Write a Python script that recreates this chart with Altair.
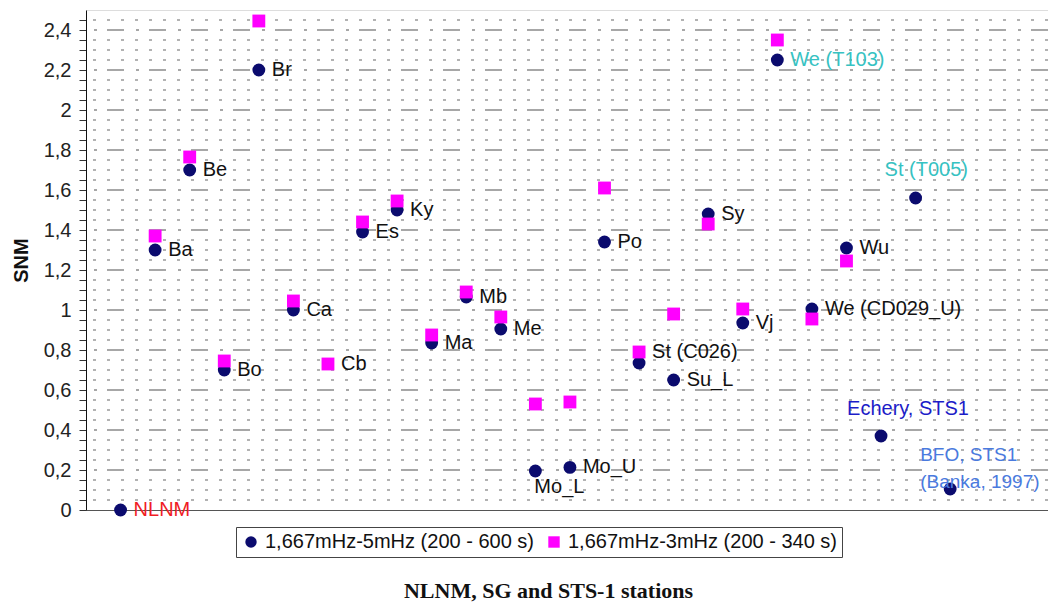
import altair as alt
import pandas as pd

# ---- data ----
stations = ["NLNM", "Ba", "Be", "Bo", "Br", "Ca", "Cb", "Es", "Ky", "Ma", "Mb", "Me",
            "Mo_L", "Mo_U", "Po", "St (C026)", "Su_L", "Sy", "Vj", "We (T103)",
            "We (CD029_U)", "Wu", "Echery, STS1", "St (T005)", "BFO, STS1\n(Banka, 1997)"]
snm_5mhz = [0.0, 1.30, 1.70, 0.70, 2.20, 1.00, None, 1.39, 1.50, 0.835, 1.065, 0.905,
            0.195, 0.213, 1.34, 0.735, 0.65, 1.48, 0.935, 2.25, 1.005, 1.31, 0.37, 1.56, 0.105]
snm_3mhz = [None, 1.37, 1.765, 0.745, 2.445, 1.045, 0.73, 1.44, 1.545, 0.875, 1.09, 0.965,
            0.53, 0.54, 1.61, 0.79, 0.98, 1.43, 1.005, 2.35, 0.955, 1.245, None, None, None]
series_names = ["1,667mHz-5mHz (200 - 600 s)", "1,667mHz-3mHz (200 - 340 s)"]
label_on_square = ["Cb", "St (C026)"]
y_ticks = [round(i * 0.05, 2) for i in range(50)]
y_major = [v for v in y_ticks if abs(v * 5 - round(v * 5)) < 1e-6 and v > 0]
y_minor = [v for v in y_ticks if abs(v * 5 - round(v * 5)) >= 1e-6]

label_colors = {"NLNM": "#f01c24", "We (T103)": "#36c2c2", "St (T005)": "#36c2c2",
                "Echery, STS1": "#1c1cc8", "BFO, STS1\n(Banka, 1997)": "#4a7ade"}

rows = []
for s_name, vals in zip(series_names, [snm_5mhz, snm_3mhz]):
    for i, (st, v) in enumerate(zip(stations, vals)):
        if v is not None:
            rows.append({"station": st, "idx": i, "value": v, "series": s_name})
pts = pd.DataFrame(rows)

lab_rows = []
for i, st in enumerate(stations):
    v = snm_3mhz[i] if (st in label_on_square or snm_5mhz[i] is None) else snm_5mhz[i]
    lab_rows.append({"station": st, "idx": i, "value": v,
                     "color": label_colors.get(st, "#111111")})
labs = pd.DataFrame(lab_rows)

major_test = "abs(datum.value*5 - round(datum.value*5)) < 0.001"

x_scale = alt.Scale(domain=[-1, 26.83], nice=False, zero=False)
y_scale = alt.Scale(domain=[0, 2.5], nice=False)

x_axis = alt.Axis(title="NLNM, SG and STS-1 stations", labels=False, ticks=False,
                  grid=False, domainColor="#555555",
                  titleFont="Liberation Serif", titleFontSize=22,
                  titleFontWeight="bold", titleColor="#111111",
                  titleX=462, titleY=80, titleBaseline="middle")
y_axis = alt.Axis(title="SNM", values=y_ticks,
                  labelExpr=major_test + " ? replace(format(datum.value, '.1~f'), '.', ',') : ''",
                  labelFont="Liberation Sans", labelFontSize=20, labelColor="#222222",
                  labelPadding=8, tickSize=7, tickColor="#333333",
                  domainColor="#111111",
                  titleFont="Liberation Sans", titleFontSize=20, titleFontWeight="bold",
                  titleColor="#111111", titlePadding=12, grid=False)

grid_minor = alt.Chart(pd.DataFrame({"g": y_minor})).mark_rule(
    strokeDash=[3, 11], color="#666666", strokeWidth=1.2).encode(
    y=alt.Y("g:Q", scale=y_scale, axis=y_axis))
grid_major = alt.Chart(pd.DataFrame({"g": y_major})).mark_rule(
    strokeDash=[17, 10, 3, 12], color="#8a8a8a", strokeWidth=1.6).encode(
    y=alt.Y("g:Q", scale=y_scale, axis=y_axis))

legend = alt.Legend(orient="none", legendX=150, legendY=517, direction="horizontal",
                    title=None, strokeColor="#444444", fillColor="white",
                    padding=5, labelFont="Liberation Sans", labelFontSize=20,
                    labelColor="#111111", symbolSize=130, columnPadding=10,
                    symbolStrokeWidth=0, labelLimit=0)

points = alt.Chart(pts).mark_point(filled=True, opacity=1, size=165, strokeWidth=0).encode(
    x=alt.X("idx:Q", scale=x_scale, axis=x_axis),
    y=alt.Y("value:Q", scale=y_scale, axis=y_axis),
    color=alt.Color("series:N", scale=alt.Scale(domain=series_names, range=["#0b0b6e", "#ff00ff"]),
                    legend=legend),
    shape=alt.Shape("series:N", scale=alt.Scale(domain=series_names, range=["circle", "square"]),
                    legend=legend),
)

special = ["Mo_L", "St (T005)", "Echery, STS1", "BFO, STS1\n(Banka, 1997)"]
base_txt = alt.Chart(labs)


def txt_layer(pred, size=20, **kw):
    return base_txt.transform_filter(pred).mark_text(
        font="Liberation Sans", fontSize=size, baseline="middle", align="left",
        lineBreak="\n", lineHeight=27, **kw).encode(
        x=alt.X("idx:Q", scale=x_scale, axis=x_axis),
        y=alt.Y("value:Q", scale=y_scale, axis=y_axis),
        text="station:N", color=alt.Color("color:N", scale=None))


t_default = txt_layer(~alt.FieldOneOfPredicate(field="station", oneOf=special), dx=13)
t_mol = txt_layer(alt.FieldEqualPredicate(field="station", equal="Mo_L"), dx=-1, dy=16)
t_t005 = txt_layer(alt.FieldEqualPredicate(field="station", equal="St (T005)"), dx=-31, dy=-28)
t_ech = txt_layer(alt.FieldEqualPredicate(field="station", equal="Echery, STS1"), dx=-34, dy=-27)
t_bfo = txt_layer(alt.FieldEqualPredicate(field="station", equal="BFO, STS1\n(Banka, 1997)"),
                  size=19, dx=-30, dy=-34)

chart = alt.layer(grid_minor, grid_major, points, t_default, t_mol, t_t005, t_ech, t_bfo).properties(
    width=962, height=500,
    autosize=alt.AutoSizeParams(type="none"),
    padding={"left": 78, "top": 2, "right": 0, "bottom": 95},
).configure_view(stroke="#333333", strokeWidth=1.2).configure(background="white")

chart.save("out.html", embed_options={"renderer": "svg", "actions": False})
